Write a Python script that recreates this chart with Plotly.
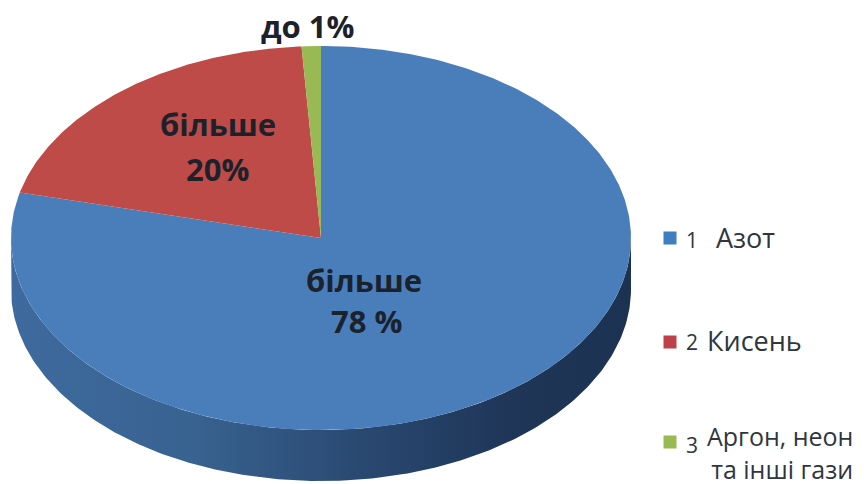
import numpy as np
import plotly.graph_objects as go

categories = ["Азот", "Кисень", "Аргон, неон<br>\u2009та інші гази"]
series_numbers = ["1", "2", "3"]
values = [78.8, 20.2, 1.0]
colors = ["#4a7ebb", "#be4b48", "#98b954"]
labels = ["більше", "78 %", "більше", "20%", "до 1%"]

W, H = 864, 484
CX, CY, RX, RY, DEPTH = 321, 238, 310, 192, 51
FONT = "Open Sans"


def ex(t):
    return CX + RX * np.sin(t)


def ey(t):
    return CY - RY * np.cos(t)


fig = go.Figure()

# Side wall of the disc (front half of the ellipse, extruded downwards)
t = np.linspace(np.pi / 2, 3 * np.pi / 2, 240)
side_x = np.concatenate([ex(t), ex(t[::-1])])
side_y = np.concatenate([ey(t), ey(t[::-1]) + DEPTH])
fig.add_trace(go.Scatter(
    x=side_x, y=side_y, mode="lines", line=dict(width=0), fill="toself",
    fillgradient=dict(type="horizontal", colorscale=[
        [0, "#3e6a9f"], [0.3, "#38628f"], [0.55, "#2a4a73"], [0.8, "#1f3658"], [1, "#1c3252"]]),
    hoverinfo="skip", showlegend=False))

# Top face slices, clockwise from 12 o'clock
cum = np.cumsum([0] + values) / sum(values) * 2 * np.pi
for i in range(len(values)):
    a = np.linspace(cum[i], cum[i + 1], max(3, int(values[i] * 6)))
    fig.add_trace(go.Scatter(
        x=np.concatenate([[CX], ex(a), [CX]]),
        y=np.concatenate([[CY], ey(a), [CY]]),
        mode="lines", line=dict(width=0), fill="toself", fillcolor=colors[i],
        hoverinfo="skip", showlegend=False))

# Slice labels
label_pos = [(364, 280), (366, 321), (218, 124), (217, 169), (307, 26)]
for txt, (x, y) in zip(labels, label_pos):
    fig.add_annotation(x=x, y=y, text="<b>%s</b>" % txt, showarrow=False,
                       font=dict(family=FONT, size=31, color="#1b222c"),
                       align="center", xanchor="center", yanchor="middle")

# Legend
leg_y = [238, 342, 442]
fig.add_trace(go.Scatter(
    x=[670] * 3, y=leg_y, mode="markers",
    marker=dict(symbol="square", size=13, color=["#3f7fbf", "#c0404a", "#98b954"]),
    hoverinfo="skip", showlegend=False))
for txt, y in zip(series_numbers, [240, 342, 445]):
    fig.add_annotation(x=684, y=y, text=txt, showarrow=False, xanchor="left", yanchor="middle",
                       font=dict(family=FONT, size=21, color="#30363e"))
for txt, (x, y), size in zip(categories, [(714, 237), (705, 340), (705, 452)], [27, 27, 25]):
    fig.add_annotation(x=x, y=y, text=txt, showarrow=False, xanchor="left", yanchor="middle",
                       align="left", font=dict(family=FONT, size=size, color="#30363e"))

fig.update_layout(
    width=W, height=H, margin=dict(l=0, r=0, t=0, b=0),
    paper_bgcolor="white", plot_bgcolor="white", showlegend=False,
    xaxis=dict(range=[0, W], visible=False, fixedrange=True),
    yaxis=dict(range=[H, 0], visible=False, fixedrange=True),
)
fig.write_html("out.html", config={"displayModeBar": False},
               post_script="document.body.style.margin='0';document.body.style.overflow='hidden';")
